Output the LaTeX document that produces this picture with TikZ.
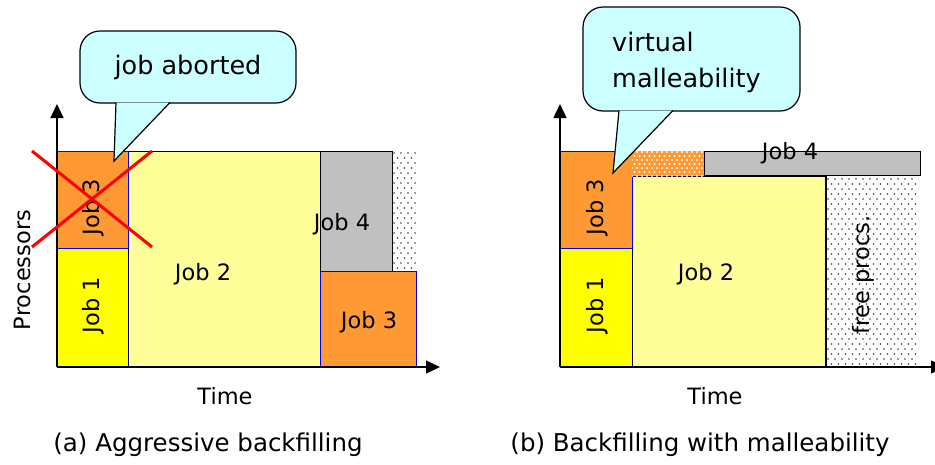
\documentclass[tikz,border=0pt]{standalone}
\usepackage{fontspec}
\setmainfont{DejaVu Sans}
\usetikzlibrary{arrows.meta}
\definecolor{jorange}{RGB}{255,153,51}
\definecolor{jyellow}{RGB}{255,255,0}
\definecolor{jlight}{RGB}{255,255,153}
\definecolor{jgray}{RGB}{192,192,192}
\definecolor{jblue}{RGB}{0,0,255}
\definecolor{jcyan}{RGB}{204,255,255}
\definecolor{jred}{RGB}{255,0,0}
\definecolor{dotgray}{RGB}{60,60,60}
\begin{document}
\begin{tikzpicture}[x=1pt,y=-1pt,
  box/.style={draw=black, line width=1.3pt, inner sep=0pt, anchor=north west},
  bluebox/.style={box, draw=jblue},
  lbl/.style={font=\fontsize{22.5}{24}\selectfont, inner sep=0pt},
  captiontext/.style={font=\fontsize{24.5}{28}\selectfont, inner sep=0pt},
  callfont/.style={font=\fontsize{25.5}{28}\selectfont, inner sep=0pt},
  callbox/.style={draw=black, line width=1.2pt, fill=jcyan, rounded corners=20pt, inner sep=0pt},
  axis/.style={line width=1.4pt, -{Triangle[length=14pt,width=13pt]}},
  crossline/.style={draw=jred, line width=3pt}]
\useasboundingbox (0,0) rectangle (935,464);

% ---------------- Left panel ----------------
\node[box, fill=jlight, minimum width=192pt, minimum height=216pt] (a2) at (128,151) {};
\node[box, fill=jyellow, minimum width=71pt, minimum height=119pt] (a1) at (57,248) {};
\node[bluebox, fill=jorange, minimum width=71pt, minimum height=97pt] (a3) at (57,151) {};
\node[box, fill=jgray, minimum width=72pt, minimum height=120pt] (a4) at (320,151) {};
\node[inner sep=0pt, anchor=north west, minimum width=24pt, minimum height=120pt] (afree) at (392,151) {};
\begin{scope}
  \clip (392,151) rectangle (416,270);
  \foreach \r in {0,...,24} {
    \foreach \c in {0,...,4} {
      \pgfmathsetmacro{\xx}{394+\c*7+mod(\r,2)*3.5}
      \fill[dotgray] (\xx,153+\r*5) circle (0.8);
    }
  }
\end{scope}
\node[bluebox, fill=jorange, minimum width=96pt, minimum height=96pt] (a3b) at (320,271) {};

\node[lbl, rotate=90] (a3t) at (93,207) {Job 3};
\node[lbl, rotate=90] (a1t) at (93,305) {Job 1};
\node[lbl] (a2t) at (203,274) {Job 2};
\node[lbl] (a4t) at (342,224) {Job 4};
\node[lbl] (a3bt) at (369,322) {Job 3};

\coordinate (aO) at (57,367);
\coordinate (aY) at (57,104);
\coordinate (aX) at (440,367);
\draw[axis] (aO) -- (aY);
\draw[axis] (aO) -- (aX);

% callout
\node[callbox, callfont, minimum width=216pt, minimum height=72pt] (ca) at (188,67) {job aborted};
\coordinate (caL) at (116,102.5);
\coordinate (caT) at (114,161);
\coordinate (caR) at (170,102.5);
\fill[jcyan] (caL) -- (caT) -- (caR) -- cycle;
\draw[line width=1.2pt] (caL) -- (caT) -- (caR);

% red cross
\coordinate (x1) at (32,151);
\coordinate (x2) at (152,247);
\coordinate (x3) at (32,247);
\coordinate (x4) at (152,151);
\draw[crossline] (x1) -- (x2);
\draw[crossline] (x3) -- (x4);

\node[lbl, rotate=90] (proc) at (22,270) {Processors};
\node[lbl] (timea) at (225,396) {Time};
\node[captiontext] (capa) at (208,445) {(a) Aggressive backfilling};

% ---------------- Right panel ----------------
\node[box, fill=jlight, minimum width=193pt, minimum height=191pt] (b2) at (632,176) {};
\node[box, fill=jyellow, minimum width=72pt, minimum height=119pt] (b1) at (560,248) {};
\node[bluebox, fill=jorange, minimum width=72pt, minimum height=97pt] (b3) at (560,151) {};
\node[inner sep=0pt, anchor=north west, minimum width=72pt, minimum height=25pt] (bhatch) at (632,151) {};
\begin{scope}
  \clip (632,151) rectangle (704,176);
  \fill[jorange] (632,151) rectangle (704,176);
  \foreach \r in {0,...,6} {
    \foreach \c in {0,...,15} {
      \pgfmathsetmacro{\xx}{632+\c*5+mod(\r,2)*2.5}
      \fill[white] (\xx,152+\r*4) circle (1.1);
    }
  }
\end{scope}
\node[box, fill=jgray, minimum width=216pt, minimum height=24pt] (b4) at (704,151) {};
\node[inner sep=0pt, anchor=north west, minimum width=93pt, minimum height=191pt] (bfree) at (825,176) {};
\begin{scope}
  \clip (825,176) rectangle (918,367);
  \foreach \r in {0,...,38} {
    \foreach \c in {0,...,13} {
      \pgfmathsetmacro{\xx}{828+\c*7+mod(\r,2)*3.5}
      \fill[dotgray] (\xx,179+\r*5) circle (0.8);
    }
  }
\end{scope}
\draw[line width=1.3pt] (b2.north east) -- (b2.south east);

\node[lbl, rotate=90] (b3t) at (597,207) {Job 3};
\node[lbl, rotate=90] (b1t) at (597,305) {Job 1};
\node[lbl] (b2t) at (706,274) {Job 2};
\node[lbl] (b4t) at (790,153) {Job 4};
\node[lbl, rotate=90] (freet) at (863,275) {free procs.};

\coordinate (bO) at (560,367);
\coordinate (bY) at (560,104);
\coordinate (bX) at (945,367);
\draw[axis] (bO) -- (bY);
\draw[axis] (bO) -- (bX);

% callout
\node[callbox, minimum width=217pt, minimum height=104pt] (cb) at (691.5,59) {};
\node[callfont, anchor=west] (cbt1) at (612,42) {virtual};
\node[callfont, anchor=west] (cbt2) at (612,80) {malleability};
\coordinate (cbL) at (619,110.5);
\coordinate (cbT) at (613,173);
\coordinate (cbR) at (673,110.5);
\fill[jcyan] (cbL) -- (cbT) -- (cbR) -- cycle;
\draw[line width=1.2pt] (cbL) -- (cbT) -- (cbR);

\node[lbl] (timeb) at (715,396) {Time};
\node[captiontext] (capb) at (700,445) {(b) Backfilling with malleability};
\end{tikzpicture}
\end{document}
